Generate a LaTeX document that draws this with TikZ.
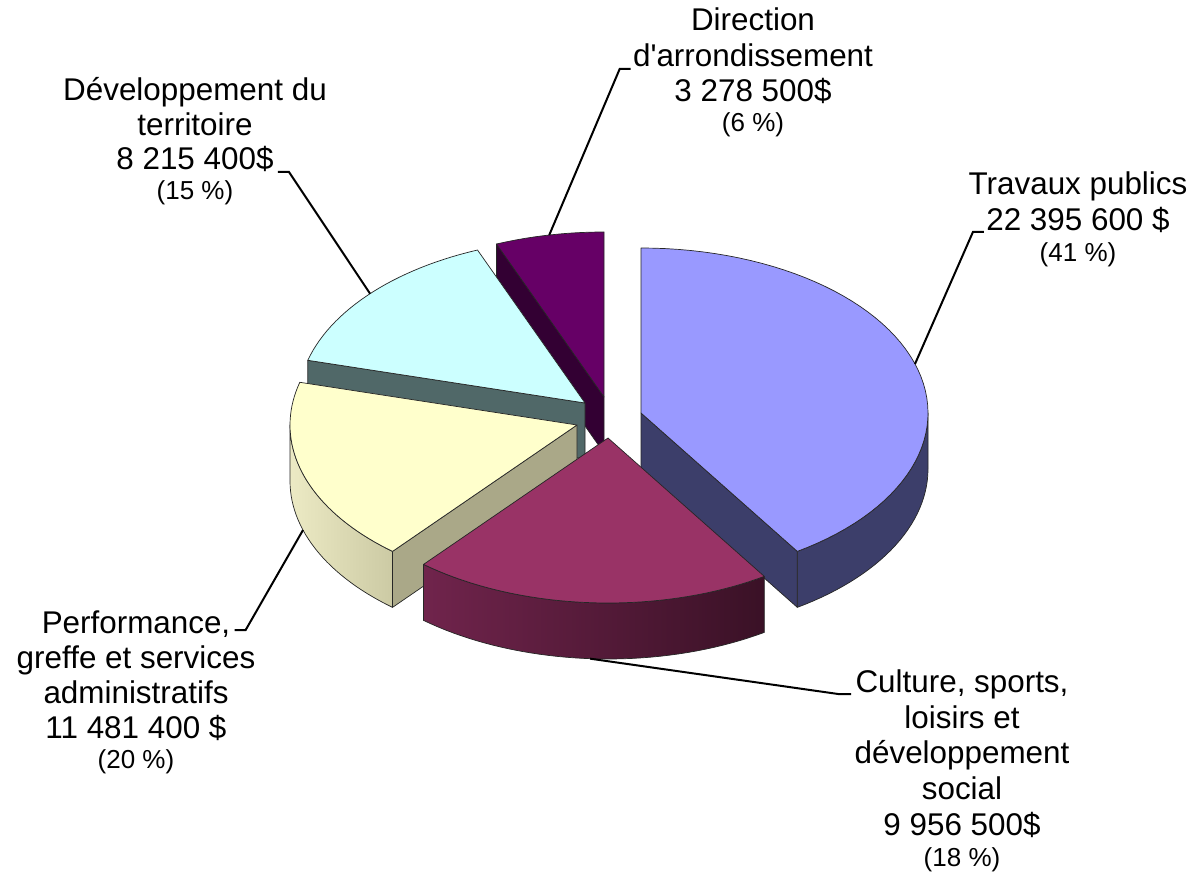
\documentclass[tikz,border=0pt]{standalone}
\usepackage{fontspec}
\setmainfont{Liberation Sans}
\definecolor{putop}{RGB}{102,0,102}
\definecolor{puside}{RGB}{51,0,51}
\definecolor{cytop}{RGB}{204,255,255}
\definecolor{cyside}{RGB}{80,104,104}
\definecolor{yetop}{RGB}{255,255,204}
\definecolor{yecut}{RGB}{170,168,136}
\definecolor{yesideL}{RGB}{236,234,196}
\definecolor{yesideR}{RGB}{204,202,164}
\definecolor{bltop}{RGB}{153,153,255}
\definecolor{blside}{RGB}{60,62,106}
\definecolor{cutop}{RGB}{153,51,102}
\definecolor{cusideL}{RGB}{112,36,76}
\definecolor{cusideR}{RGB}{58,17,38}
\begin{document}
\begin{tikzpicture}[x=0.5pt,y=-0.5pt,
  edge/.style={draw=black!85, line width=0.35pt, line join=round},
  leader/.style={draw=black, line width=1pt},
  big/.style={font=\fontsize{15.7}{18}\selectfont, inner sep=0pt, anchor=base},
  small/.style={font=\fontsize{13}{15}\selectfont, inner sep=0pt, anchor=base}]
\useasboundingbox (0,0) rectangle (1197,886);

% ---- Direction d'arrondissement (purple)
\filldraw[edge, fill=puside] (604,397) -- ({604+287*cos(112)},{397-165*sin(112)}) -- ++(0,56) -- (604,453) -- cycle;
\filldraw[edge, fill=putop] (604,397) -- plot[domain=112:90, samples=20] ({604+287*cos(\x)},{397-165*sin(\x)}) -- cycle;

% ---- Developpement du territoire (cyan)
\filldraw[edge, fill=cyside] (585,403) -- ({585+287*cos(165)},{403-165*sin(165)}) -- ++(0,56) -- (585,459) -- cycle;
\filldraw[edge, fill=cytop] (585,403) -- plot[domain=165:112, samples=30] ({585+287*cos(\x)},{403-165*sin(\x)}) -- cycle;

% ---- Performance (yellow)
\path[edge, left color=yesideL, right color=yesideR] plot[domain=180:230, samples=30] ({577+287*cos(\x)},{425-165*sin(\x)}) -- plot[domain=230:180, samples=30] ({577+287*cos(\x)},{481-165*sin(\x)}) -- cycle;
\filldraw[edge, fill=yecut] (577,425) -- ({577+287*cos(230)},{425-165*sin(230)}) -- ++(0,56) -- (577,481) -- cycle;
\filldraw[edge, fill=yetop] (577,425) -- plot[domain=230:165, samples=40] ({577+287*cos(\x)},{425-165*sin(\x)}) -- cycle;

% ---- Travaux publics (blue)
\filldraw[edge, fill=blside] plot[domain=0:-57, samples=30] ({641+287*cos(\x)},{413-165*sin(\x)}) -- plot[domain=-57:0, samples=30] ({641+287*cos(\x)},{469-165*sin(\x)}) -- cycle;
\filldraw[edge, fill=blside] (641,413) -- ({641+287*cos(-57)},{413-165*sin(-57)}) -- ++(0,56) -- (641,469) -- cycle;
\filldraw[edge, fill=bltop] (641,413) -- plot[domain=90:-57, samples=60] ({641+287*cos(\x)},{413-165*sin(\x)}) -- cycle;

% ---- Culture (magenta)
\path[edge, left color=cusideL, right color=cusideR] plot[domain=230:303, samples=40] ({608+287*cos(\x)},{438-165*sin(\x)}) -- plot[domain=303:230, samples=40] ({608+287*cos(\x)},{494-165*sin(\x)}) -- cycle;
\filldraw[edge, fill=cutop] (608,438) -- plot[domain=230:303, samples=40] ({608+287*cos(\x)},{438-165*sin(\x)}) -- cycle;

% ---- leader end points on the slices
\coordinate (puL) at ({604+287*cos(101)},{397-165*sin(101)});
\coordinate (cyL) at ({585+287*cos(138.5)},{403-165*sin(138.5)});
\coordinate (blL) at ({641+287*cos(17.3)},{413-165*sin(17.3)});
\coordinate (yeL) at ({577+287*cos(197.3)},{481-165*sin(197.3)});
\coordinate (cuL) at ({608+287*cos(266.4)},{494-165*sin(266.4)});

% ---- labels
\node[big] (d1) at (753,31) {Direction};
\node[big] (d2) at (753,67) {d\textquotesingle arrondissement};
\node[big] (d3) at (753,102) {3 278 500\$};
\node[small] (d4) at (753,132) {(6 \%)};

\node[big] (dv1) at (195,101) {Développement du};
\node[big] (dv2) at (195,136) {territoire};
\node[big] (dv3) at (195,170) {8 215 400\$};
\node[small] (dv4) at (195,200) {(15 \%)};

\node[big] (t1) at (1078,195) {Travaux publics};
\node[big] (t2) at (1078,231) {22 395 600 \$};
\node[small] (t3) at (1078,262) {(41 \%)};

\node[big] (p1) at (136,633) {Performance,};
\node[big] (p2) at (136,668) {greffe et services};
\node[big] (p3) at (136,703) {administratifs};
\node[big] (p4) at (136,738) {11 481 400 \$};
\node[small] (p5) at (136,768) {(20 \%)};

\node[big] (c1) at (962,692) {Culture, sports,};
\node[big] (c2) at (962,728) {loisirs et};
\node[big] (c3) at (962,763) {développement};
\node[big] (c4) at (962,799) {social};
\node[big] (c5) at (962,835) {9 956 500\$};
\node[small] (c6) at (962,866) {(18 \%)};

% ---- leader lines
\draw[leader] ([xshift=-1pt,yshift=-1pt]d2.base west) -- ++(-11,0) -- (puL);
\draw[leader] ([xshift=2pt,yshift=-1pt]dv3.base east) -- ++(11,0) -- (cyL);
\draw[leader] ([xshift=-1pt,yshift=-0.5pt]t2.base west) -- ++(-11,0) -- (blL);
\draw[leader] ([xshift=2pt,yshift=1.5pt]p1.base east) -- ++(11,0) -- (yeL);
\draw[leader] ([xshift=-2pt,yshift=-1pt]c1.base west) -- ++(-13,0) -- (cuL);
\end{tikzpicture}
\end{document}
